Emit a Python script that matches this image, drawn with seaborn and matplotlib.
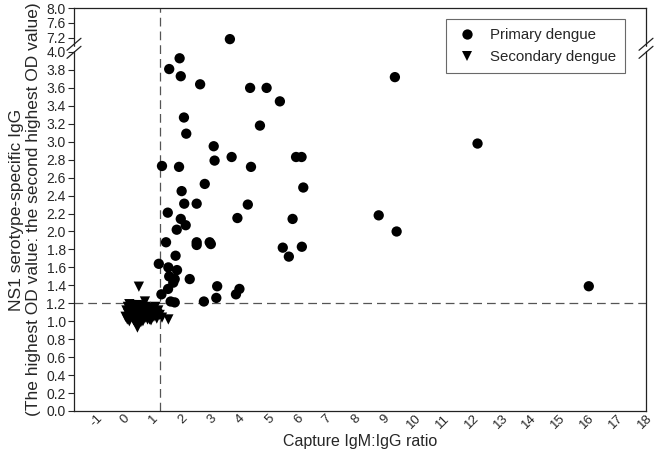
import numpy as np
import pandas as pd
import matplotlib
matplotlib.use('Agg')
import matplotlib.pyplot as plt
import seaborn as sns

# ---------- data ----------
primary_x = [3.63, 1.89, 1.53, 1.93, 2.60, 4.33, 4.90, 5.36, 2.04, 2.12,
             4.67, 3.07, 3.69, 3.10, 5.92, 6.11, 1.28, 1.87, 4.36, 9.34,
             12.20, 6.17, 8.78, 9.40, 6.12, 16.05, 2.76, 1.96, 2.05, 2.48,
             4.25, 1.48, 3.89, 5.80, 1.93, 2.10, 1.79, 1.42, 2.48, 2.48,
             2.93, 2.97, 5.46, 5.67, 1.75, 1.17, 1.50, 1.80, 1.53, 1.72,
             1.67, 2.24, 1.49, 3.19, 3.96, 3.84, 1.26, 3.16, 1.58, 1.72,
             2.73]
primary_y = [7.17, 3.93, 3.81, 3.73, 3.64, 3.60, 3.60, 3.45, 3.27, 3.09,
             3.18, 2.95, 2.83, 2.79, 2.83, 2.83, 2.73, 2.72, 2.72, 3.72,
             2.98, 2.49, 2.18, 2.00, 1.83, 1.39, 2.53, 2.45, 2.31, 2.31,
             2.30, 2.21, 2.15, 2.14, 2.14, 2.07, 2.02, 1.88, 1.88, 1.85,
             1.88, 1.86, 1.82, 1.72, 1.73, 1.64, 1.60, 1.57, 1.50, 1.47,
             1.43, 1.47, 1.36, 1.39, 1.36, 1.30, 1.30, 1.26, 1.22, 1.21,
             1.22]

secondary_x = [0.48, 0.69, 1.50, 0.43, 0.02, 0.05, 0.08, 0.10, 0.12, 0.15,
               0.18, 0.20, 0.22, 0.25, 0.28, 0.30, 0.33, 0.35, 0.38, 0.40,
               0.42, 0.45, 0.50, 0.52, 0.55, 0.58, 0.60, 0.62, 0.65, 0.70,
               0.72, 0.75, 0.78, 0.80, 0.85, 0.88, 0.90, 0.95, 1.00, 1.05,
               1.10, 1.15, 1.20, 1.28, 0.10, 0.20, 0.30, 0.40, 0.35, 0.25,
               0.15, 0.55, 0.65, 0.75, 0.85, 0.95, 1.05, 0.60, 0.45, 1.12]
secondary_y = [1.385, 1.22, 1.02, 0.93, 1.05, 1.12, 1.02, 1.16, 1.08, 1.00,
               1.14, 1.04, 1.18, 1.10, 1.03, 1.15, 1.07, 0.99, 1.12, 1.05,
               1.18, 0.97, 1.09, 1.02, 1.14, 1.06, 1.17, 1.00, 1.11, 1.04,
               1.16, 1.08, 1.02, 1.13, 1.06, 1.10, 1.01, 1.15, 1.05, 1.09,
               1.03, 1.12, 1.07, 1.04, 1.10, 1.13, 1.01, 1.09, 1.17, 1.06,
               1.19, 0.99, 1.07, 1.14, 1.02, 1.11, 1.16, 1.04, 1.12, 1.08]

x_ticks = list(range(-1, 19))
y_ticks = [0.0, 0.2, 0.4, 0.6, 0.8, 1.0, 1.2, 1.4, 1.6, 1.8, 2.0, 2.2, 2.4,
           2.6, 2.8, 3.0, 3.2, 3.4, 3.6, 3.8, 4.0, 7.2, 7.6, 8.0]
od_cutoff = 1.2
ratio_cutoff = 1.2

df = pd.DataFrame({
    'ratio': primary_x + secondary_x,
    'od': primary_y + secondary_y,
    'group': ['Primary dengue'] * len(primary_x) + ['Secondary dengue'] * len(secondary_x),
})

# ---------- style ----------
sns.set_style('ticks')
plt.rcParams['font.family'] = ['Liberation Sans', 'DejaVu Sans']

# broken y axis: 0-4 normal, 7-8 compressed on top
bk_in = [-100, 4.07, 7.0, 108]
bk_out = [-100, 4.07, 4.0724, 4.0724 + 101 * 0.4178]
def fwd(y):
    return np.interp(y, bk_in, bk_out)
def inv(t):
    return np.interp(t, bk_out, bk_in)

fig, ax = plt.subplots(figsize=(6.55, 4.54), dpi=100)
fig.subplots_adjust(left=74 / 655, right=646 / 655, bottom=1 - 411 / 454, top=1 - 8 / 454)

ax.set_yscale('function', functions=(fwd, inv))

sns.scatterplot(data=df, x='ratio', y='od', hue='group', style='group',
                palette=['black', 'black'], markers=['o', 'v'], s=55,
                edgecolor='black', linewidth=0, ax=ax, zorder=3)

ax.axhline(od_cutoff, color='#555555', lw=0.9, ls=(0, (7, 4)), zorder=2)
ax.axvline(ratio_cutoff, color='#555555', lw=0.9, ls=(0, (7, 4)), zorder=2)

ax.set_xlim(-1.765, 18.03)
ax.set_ylim(0, 8.0)
ax.set_xticks(x_ticks)
ax.set_xticklabels([str(t) for t in x_ticks], rotation=45, ha='center', fontsize=9.5)
ax.set_yticks(y_ticks)
ax.set_yticklabels(['%.1f' % t for t in y_ticks], fontsize=10)
ax.minorticks_off()
ax.tick_params(axis='x', length=0, pad=1)
ax.tick_params(axis='y', length=4, width=0.8, direction='out', pad=2)

for sp in ax.spines.values():
    sp.set_color('#222222')
    sp.set_linewidth(0.9)

ax.set_xlabel('Capture IgM:IgG ratio', fontsize=11.5, labelpad=2)
ax.set_ylabel('NS1 serotype-specific IgG\n(The highest OD value: the second highest OD value)',
              fontsize=12.5, linespacing=1.15)
ax.yaxis.set_label_coords(-0.058, 0.5)

# axis break marks on both sides
yb = 0.9
dx, dy, gap = 0.0122, 0.0149, 0.01
for xb in (0.0, 1.0):
    ax.fill([xb - 0.006, xb + 0.006, xb + 0.006, xb - 0.006],
            [yb - gap + dy * 0.4, yb - gap + dy * 0.4, yb + gap - dy * 0.4, yb + gap - dy * 0.4],
            color='white', transform=ax.transAxes, clip_on=False, zorder=5)
    for off in (gap, -gap):
        ax.plot([xb - dx, xb + dx], [yb + off - dy, yb + off + dy], color='#222222',
                lw=0.9, transform=ax.transAxes, clip_on=False, zorder=6)

handles, labels = ax.get_legend_handles_labels()
leg = ax.legend(handles, labels, loc='upper right', bbox_to_anchor=(0.963, 0.973),
                borderaxespad=0, frameon=True, fancybox=False, fontsize=10.8,
                handletextpad=0.7, handlelength=1.6, borderpad=0.6,
                labelspacing=0.55, markerscale=1.0)
leg.get_frame().set_edgecolor('#444444')
leg.get_frame().set_linewidth(0.8)

plt.savefig('out.png', dpi=100)
